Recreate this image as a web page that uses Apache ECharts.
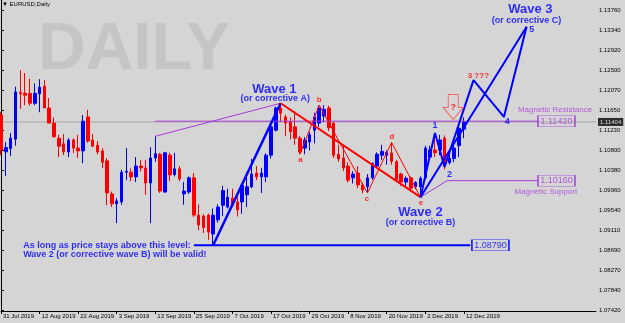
<!DOCTYPE html>
<html>
<head>
<meta charset="utf-8">
<script src="https://cdn.jsdelivr.net/npm/echarts@6/dist/echarts.min.js"></script>
<style>
html, body { margin: 0; padding: 0; background: #d5d5d5; }
#main { width: 625px; height: 323px; }
</style>
</head>
<body>
<div id="main"></div>
<script>
// EURUSD daily bars, 31 Jul 2019 .. 12 Dec 2019 : [open, high, low, close]
var candles = [
  [1.1155, 1.1162, 1.1070, 1.1081], [1.1077, 1.1098, 1.1026, 1.1086], [1.1084, 1.1117, 1.1068, 1.1106],
  [1.1104, 1.1215, 1.1090, 1.1204], [1.1203, 1.1250, 1.1168, 1.1200], [1.1201, 1.1244, 1.1176, 1.1197],
  [1.1201, 1.1232, 1.1175, 1.1180], [1.1180, 1.1222, 1.1176, 1.1201], [1.1200, 1.1231, 1.1161, 1.1214],
  [1.1216, 1.1229, 1.1170, 1.1170], [1.1170, 1.1191, 1.1138, 1.1138], [1.1138, 1.1150, 1.1107, 1.1109],
  [1.1106, 1.1113, 1.1066, 1.1089], [1.1094, 1.1115, 1.1070, 1.1077], [1.1077, 1.1106, 1.1066, 1.1102],
  [1.1102, 1.1106, 1.1075, 1.1085], [1.1085, 1.1113, 1.1064, 1.1079], [1.1079, 1.1155, 1.1053, 1.1142],
  [1.1151, 1.1166, 1.1096, 1.1100], [1.1102, 1.1115, 1.1087, 1.1089], [1.1091, 1.1100, 1.1072, 1.1077],
  [1.1079, 1.1085, 1.1043, 1.1055], [1.1058, 1.1064, 1.0964, 1.0990], [1.0988, 1.0993, 1.0960, 1.0967],
  [1.0967, 1.0979, 1.0926, 1.0973], [1.0971, 1.1039, 1.0965, 1.1034], [1.1034, 1.1085, 1.1017, 1.1036],
  [1.1034, 1.1042, 1.1015, 1.1024], [1.1024, 1.1066, 1.1013, 1.1047], [1.1047, 1.1060, 1.1035, 1.1043],
  [1.1043, 1.1060, 1.0986, 1.1011], [1.1011, 1.1087, 1.0926, 1.1064], [1.1064, 1.1110, 1.1056, 1.1073],
  [1.1072, 1.1075, 1.0990, 1.0994], [1.0992, 1.1077, 1.0990, 1.1075], [1.1070, 1.1075, 1.1015, 1.1028],
  [1.1029, 1.1075, 1.1025, 1.1041], [1.1041, 1.1047, 1.1015, 1.1020], [1.0988, 1.1013, 1.0965, 1.0994],
  [1.0992, 1.1025, 1.0988, 1.1022], [1.1022, 1.1032, 1.0939, 1.0943], [1.0943, 1.0966, 1.0911, 1.0922],
  [1.0941, 1.0945, 1.0905, 1.0917], [1.0943, 1.0946, 1.0890, 1.0907], [1.0903, 1.0957, 1.0879, 1.0943],
  [1.0933, 1.0966, 1.0927, 1.0960], [1.0964, 1.1005, 1.0941, 1.0995], [1.0960, 1.0999, 1.0957, 1.0981],
  [1.0979, 1.0999, 1.0960, 1.0964], [1.0971, 1.0982, 1.0940, 1.0954], [1.0971, 1.1010, 1.0946, 1.1006],
  [1.0986, 1.1034, 1.0960, 1.1003], [1.1003, 1.1062, 1.1000, 1.1030], [1.1032, 1.1047, 1.1017, 1.1024],
  [1.1024, 1.1043, 1.0990, 1.1032], [1.1024, 1.1074, 1.1013, 1.1070], [1.1070, 1.1140, 1.1063, 1.1130],
  [1.1123, 1.1173, 1.1120, 1.1170], [1.1170, 1.1179, 1.1140, 1.1159], [1.1151, 1.1156, 1.1110, 1.1138],
  [1.1141, 1.1150, 1.1103, 1.1120], [1.1130, 1.1163, 1.1092, 1.1106], [1.1106, 1.1111, 1.1072, 1.1077],
  [1.1085, 1.1108, 1.1072, 1.1102], [1.1098, 1.1119, 1.1080, 1.1113], [1.1123, 1.1160, 1.1095, 1.1151],
  [1.1138, 1.1176, 1.1130, 1.1170], [1.1153, 1.1176, 1.1140, 1.1167], [1.1170, 1.1175, 1.1121, 1.1128],
  [1.1138, 1.1140, 1.1064, 1.1070], [1.1072, 1.1092, 1.1056, 1.1062], [1.1064, 1.1092, 1.1036, 1.1043],
  [1.1047, 1.1055, 1.1012, 1.1017], [1.1022, 1.1036, 1.1010, 1.1030], [1.1032, 1.1047, 1.1000, 1.1007],
  [1.1007, 1.1012, 1.0989, 1.0996], [1.1003, 1.1030, 1.0990, 1.1022], [1.1022, 1.1055, 1.1018, 1.1052],
  [1.1047, 1.1076, 1.1044, 1.1072], [1.1070, 1.1092, 1.1060, 1.1078], [1.1070, 1.1080, 1.1050, 1.1076],
  [1.1075, 1.1097, 1.1050, 1.1057], [1.1056, 1.1060, 1.1014, 1.1018], [1.1030, 1.1033, 1.1005, 1.1013],
  [1.1013, 1.1025, 1.1005, 1.1021], [1.1022, 1.1025, 1.0995, 1.1000], [1.1003, 1.1015, 1.0998, 1.1012],
  [1.1003, 1.1025, 1.0981, 1.1021], [1.1022, 1.1090, 1.1018, 1.1085], [1.1066, 1.1090, 1.1060, 1.1081],
  [1.1081, 1.1117, 1.1066, 1.1075], [1.1081, 1.1113, 1.1070, 1.1102], [1.1106, 1.1112, 1.1040, 1.1058],
  [1.1054, 1.1073, 1.1050, 1.1063], [1.1063, 1.1090, 1.1055, 1.1085], [1.1090, 1.1130, 1.1066, 1.1127],
  [1.1125, 1.1150, 1.1106, 1.1140]
];
var lastPrice = 1.11404;

// axis ticks
var xTickBars = [0, 8, 16, 24, 32, 40, 48, 56, 64, 72, 80, 88, 96];
var xTickLabels = ['31 Jul 2019', '12 Aug 2019', '22 Aug 2019', '3 Sep 2019', '13 Sep 2019', '25 Sep 2019',
  '7 Oct 2019', '17 Oct 2019', '29 Oct 2019', '8 Nov 2019', '20 Nov 2019', '2 Dec 2019', '12 Dec 2019'];
var yTicks = [1.07420, 1.07840, 1.08270, 1.08690, 1.09110, 1.09540, 1.09960, 1.10380,
  1.10800, 1.11230, 1.11650, 1.12070, 1.12500, 1.12920, 1.13340, 1.13760];

// wave drawings [bar, price]
var wave1Path = [[44, 1.0879], [58, 1.1180]];
var correctionPath = [[58, 1.1180], [87, 1.0981]];
var abcdePath = [[62, 1.1072], [66, 1.1176], [76, 1.0990], [81, 1.1097], [87, 1.0981]];
var wave3Path = [[87, 1.0981], [90, 1.1117], [92, 1.1045], [98, 1.1229], [104.3, 1.1151], [109, 1.1342]];
var wave3Channel = [[87, 1.0981], [109, 1.1342]];
var purpleTrend = [[32, 1.1110], [58, 1.1180]];
var purpleToSupport = [[87, 1.0981], [92.5, 1.1016]];

// levels: [price, fromBar, toBar, boxBar]
var resistanceLevel = [1.11420, 32, 111.4, 115.2];
var supportLevel = [1.10160, 92.5, 111.4, 115.2];
var floorLevel = [1.08790, 40, 97.3, 101.5];

// text notes: [text, bar, price]
var bigNotes = [['Wave 1', 56.7, 1.1210], ['Wave 2', 87.0, 1.0948], ['Wave 3', 109.8, 1.1379]];
var subNotes = [['(or corrective A)', 56.9, 1.11905], ['(or corrective B)', 87.0, 1.0927], ['(or corrective C)', 109.0, 1.13563]];
var redLetters = [['a', 62.1, 1.1060], ['b', 66.0, 1.1188], ['c', 75.9, 1.0977], ['d', 81.1, 1.1108], ['e', 87.1, 1.0969], ['3 ???', 99.0, 1.1238]];
var blueNumbers = [['1', 90.0, 1.11325], ['2', 93.0, 1.1030], ['4', 105.0, 1.1141], ['5', 110.1, 1.1337]];
var warnLines = [['As long as price stays above this level:', 4.6, 1.08776], ['Wave 2 (or corrective wave B) will be valid!', 4.6, 1.08596]];
var magnetNotes = [['Magnetic Resistance', 114.9, 1.11657], ['Magnetic Support', 113.0, 1.09931]];
var questionArrow = [93.8, 1.1172];

var FONT = 'Liberation Sans, Arial, sans-serif';
var BLUE = '#0000ff', RED = '#ff0000', PURPLE = '#a53ad9';

var chart = echarts.init(document.getElementById('main'));

function pathSeries(pts, color, width) {
  return {
    type: 'line', data: pts, symbol: 'none', showSymbol: false, silent: true, z: 5,
    lineStyle: { color: color, width: width }, animation: false
  };
}

function textSeries(list, color, size, weight, pos) {
  return {
    type: 'scatter', symbolSize: 0, silent: true, z: 6, animation: false,
    data: list.map(function (n) { return { value: [n[1], n[2]], name: n[0] }; }),
    label: {
      show: true, position: pos || 'inside', distance: 0, formatter: '{b}',
      color: color, fontSize: size, fontWeight: weight, fontFamily: FONT
    }
  };
}

function boxSeries(level, color) {
  return {
    type: 'scatter', symbol: 'rect', symbolSize: [37, 11], silent: true, z: 6, animation: false,
    data: [[level[3], level[0]]],
    itemStyle: { color: 'rgba(0,0,0,0)', borderColor: color, borderWidth: 1 },
    label: {
      show: true, position: 'inside', formatter: level[0].toFixed(5),
      color: color, fontSize: 9, fontFamily: FONT
    }
  };
}

var ohlc = candles.map(function (c, i) { return [i, c[0], c[3], c[2], c[1]]; });

// current bid line, price tag sits on the axis
var bidLine = pathSeries([[0, lastPrice], [123.4, lastPrice]], '#a8a8a8', 1);
bidLine.z = 2;
var bidTag = {
  type: 'scatter', symbolSize: 0, silent: true, z: 7, animation: false, clip: false,
  data: [[123.4, lastPrice]],
  label: {
    show: true, position: 'right', distance: 2, formatter: lastPrice.toFixed(5),
    color: '#fff', backgroundColor: '#000', fontSize: 6, padding: [1, 2, 1, 2], fontFamily: FONT
  }
};

var series = [
  bidLine,
  bidTag,
  {
    type: 'candlestick', data: ohlc, encode: { x: 0, y: [1, 2, 3, 4] }, barWidth: 3, z: 3,
    silent: true, animation: false,
    itemStyle: { color: BLUE, color0: RED, borderColor: BLUE, borderColor0: RED, borderWidth: 1 }
  },
  pathSeries([[resistanceLevel[1], resistanceLevel[0]], [resistanceLevel[2], resistanceLevel[0]]], PURPLE, 1),
  pathSeries([[supportLevel[1], supportLevel[0]], [supportLevel[2], supportLevel[0]]], PURPLE, 1),
  pathSeries([[floorLevel[1], floorLevel[0]], [floorLevel[2], floorLevel[0]]], BLUE, 2),
  pathSeries(purpleTrend, PURPLE, 1),
  pathSeries(purpleToSupport, PURPLE, 1),
  pathSeries(wave1Path, BLUE, 2.5),
  pathSeries(correctionPath, RED, 2),
  pathSeries(abcdePath, RED, 1),
  pathSeries(wave3Path, BLUE, 2),
  pathSeries(wave3Channel, BLUE, 2),
  boxSeries(resistanceLevel, PURPLE),
  boxSeries(supportLevel, PURPLE),
  boxSeries(floorLevel, BLUE),
  textSeries(bigNotes, BLUE, 13, 'bold'),
  textSeries(subNotes, BLUE, 9, 'bold'),
  textSeries(redLetters, RED, 8, 'bold'),
  textSeries(blueNumbers, BLUE, 9, 'bold'),
  textSeries(warnLines, BLUE, 9, 'bold', 'right'),
  textSeries(magnetNotes, PURPLE, 8, 'normal'),
  {
    type: 'scatter', silent: true, z: 6, animation: false,
    symbol: 'path://M5,0 L15,0 L15,13 L20,13 L10,25 L0,13 L5,13 Z',
    symbolSize: [20, 25],
    data: [questionArrow],
    itemStyle: { color: 'rgba(255,255,255,0.08)', borderColor: '#ff4b4b', borderWidth: 1 },
    label: { show: true, position: 'inside', formatter: '?', color: RED, fontSize: 9, fontWeight: 'bold', fontFamily: FONT }
  }
];

chart.setOption({
  backgroundColor: '#d5d5d5',
  animation: false,
  title: [
    { text: 'DAILY', left: 33, top: 13, z: 0, textStyle: { fontSize: 66, fontWeight: 'bold', color: '#c5c5c5', fontFamily: FONT } },
    { text: '\u25BC EURUSD,Daily', left: 1, top: 0, z: 0, padding: 1, textStyle: { fontSize: 6, fontWeight: 'normal', color: '#000', fontFamily: FONT } }
  ],
  grid: { left: 0, right: 29, top: 0, bottom: 12 },
  xAxis: {
    type: 'value', min: 0, max: 123.4,
    splitLine: { show: false },
    axisLine: { show: true, lineStyle: { color: '#000', width: 1 } },
    axisTick: { show: true, length: 3, customValues: xTickBars, lineStyle: { color: '#000' } },
    axisLabel: {
      customValues: xTickBars, align: 'left', margin: 2, padding: [0, 0, 0, 2],
      fontSize: 6, color: '#000', fontFamily: FONT,
      formatter: function (v) { return xTickLabels[xTickBars.indexOf(Math.round(v))] || ''; }
    }
  },
  yAxis: {
    type: 'value', position: 'right', min: 1.07399, max: 1.13987, scale: true,
    splitLine: { show: false },
    axisLine: { show: true, lineStyle: { color: '#000', width: 1 } },
    axisTick: { show: true, length: 3, customValues: yTicks, lineStyle: { color: '#000' } },
    axisLabel: {
      customValues: yTicks, margin: 3, fontSize: 6, color: '#000', fontFamily: FONT,
      formatter: function (v) { return v.toFixed(5); }
    }
  },
  series: series
});
</script>
</body>
</html>
